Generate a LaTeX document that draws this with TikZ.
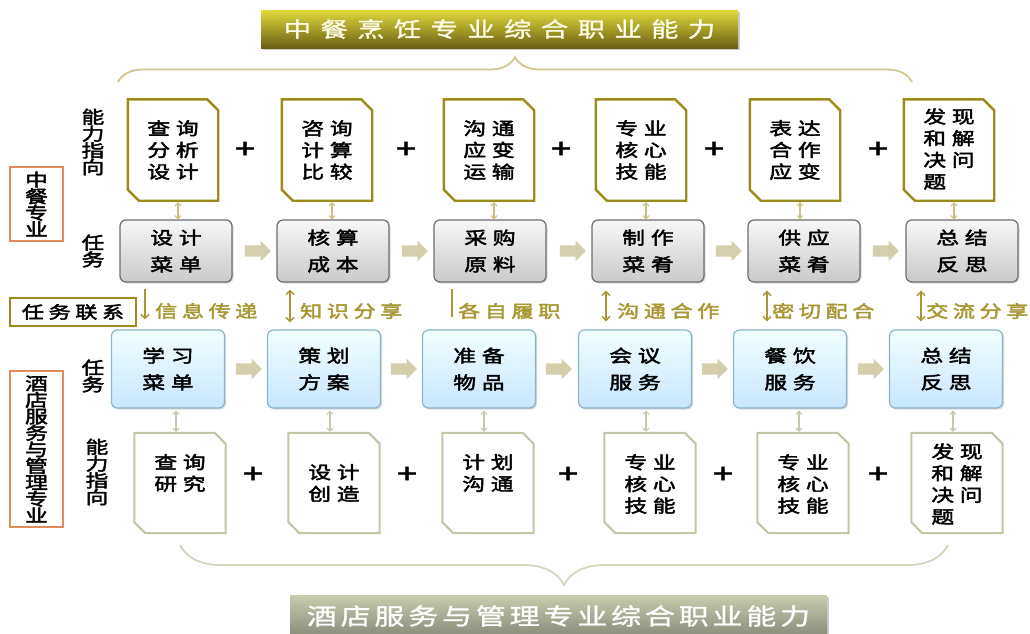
\documentclass[tikz,border=0pt]{standalone}
\usepackage{fontspec}
\setmainfont{Noto Sans CJK SC}
\newfontfamily\fA[FakeBold=2.5,FakeStretch=1.3,LetterSpace=33]{Noto Sans CJK SC}
\newfontfamily\fC[FakeBold=2.5,FakeStretch=1.3,LetterSpace=27]{Noto Sans CJK SC}
\newfontfamily\fV[FakeBold=2.5,FakeStretch=1.3]{Noto Sans CJK SC}
\newfontfamily\fTop[FakeBold=1.2,FakeStretch=1.3,LetterSpace=45]{Noto Sans CJK SC}
\newfontfamily\fBot[FakeBold=1.2,FakeStretch=1.3,LetterSpace=17]{Noto Sans CJK SC}
\newfontfamily\fPlus[FakeBold=1.5,FakeStretch=1.4]{Noto Sans CJK SC}
\usetikzlibrary{shapes.arrows,decorations.pathreplacing,shadows,calc,arrows.meta}
\definecolor{olivebd}{HTML}{9C8C1C}
\definecolor{olivetxt}{HTML}{A89732}
\definecolor{tanarr}{HTML}{D4CEAD}
\definecolor{tanline}{HTML}{CDBF82}
\definecolor{ggreen}{HTML}{C2C6A5}
\definecolor{graybd}{HTML}{6D6D6D}
\definecolor{bluebd}{HTML}{8AB5C8}
\definecolor{orangebd}{HTML}{E08A60}
\definecolor{braceA}{HTML}{D2C78E}
\definecolor{braceB}{HTML}{D3D6BF}
\definecolor{smallB}{HTML}{C9C6AC}
\tikzset{
  docA/.style={rectangle, fill=white, minimum width=90pt, minimum height=101pt, inner sep=0pt},
  docB/.style={docA, minimum width=91pt, minimum height=100pt},
  docline/.style={draw=olivebd, line width=2.4pt},
  doclineB/.style={draw=ggreen, line width=2pt},
  dtxt/.style={font=\fA\fontsize{17.5}{21.7}\selectfont, align=center, inner sep=0pt},
  taskG/.style={rounded corners=6pt, draw=graybd, line width=1.2pt, top color=gray!6,
    bottom color=gray!42, minimum width=112pt, minimum height=62pt, align=center,
    font=\fA\fontsize{17.5}{26.7}\selectfont, inner sep=0pt,
    drop shadow={shadow xshift=1.5pt,shadow yshift=-1.5pt,opacity=0.3}},
  taskB/.style={taskG, draw=bluebd, top color=blue!2!cyan!5, bottom color=cyan!55!blue!22,
    minimum width=113pt, minimum height=78pt},
  blockarr/.style={single arrow, fill=tanarr, draw=none, minimum width=20pt,
    minimum height=26pt, single arrow head extend=4.5pt, inner xsep=0pt, inner ysep=5.5pt},
  plus/.style={font=\fPlus\fontsize{26}{26}\selectfont, inner sep=0pt},
  small/.style={draw=tanline, line width=1.1pt, {Straight Barb[length=3pt,width=6pt]}-{Straight Barb[length=3pt,width=6pt]}},
  smallb/.style={small, draw=smallB},
  conn/.style={draw=olivetxt, line width=1.4pt},
  barbs/.style={{Straight Barb[length=4pt,width=8pt]}-{Straight Barb[length=4pt,width=8pt]}},
  ctxt/.style={font=\fC\fontsize{17}{20}\selectfont, text=olivetxt, anchor=west, inner sep=0pt},
  vlab/.style={font=\fV\fontsize{17.5}{16.8}\selectfont, align=center, inner sep=0pt},
  sidebox/.style={draw=orangebd, line width=2.4pt, fill=white, minimum width=53pt,
    font=\fV\fontsize{17.5}{16.5}\selectfont, align=center, inner sep=0pt},
}
\newcommand\docpath[2]{%
  \draw[#2] (#1.north west) -- ([xshift=-11pt]#1.north east) -- ([yshift=-11pt]#1.north east)
    -- (#1.south east) -- ([xshift=11pt]#1.south west) -- ([yshift=11pt]#1.south west) -- cycle;}
\begin{document}
\begin{tikzpicture}[x=1pt,y=1pt]
\useasboundingbox (0,0) rectangle (1030,-633);
\fill[white] (0,0) rectangle (1030,-633);
% titles
\node[minimum width=477pt, minimum height=38pt, inner sep=0pt,
  top color=olivebd!40!yellow!80!white, middle color=olivebd!92!black, bottom color=olivebd!68!black,
  drop shadow={shadow xshift=2pt,shadow yshift=-2pt,opacity=0.4},
  font=\fTop\fontsize{21}{24}\selectfont, text=white!92!yellow] (tt) at (499.5,-29) {中餐烹饪专业综合职业能力};
\node[minimum width=537pt, minimum height=42pt, inner sep=0pt,
  top color=ggreen!90!white, middle color=ggreen!60!black!85, bottom color=ggreen!55!black!80,
  drop shadow={shadow xshift=2pt,shadow yshift=-2pt,opacity=0.4},
  font=\fBot\fontsize{23}{26}\selectfont, text=white] (bt) at (558.5,-616) {酒店服务与管理专业综合职业能力};
% braces
\draw[braceA, line width=1.8pt, decorate, decoration={brace,amplitude=25pt}] (118,-82) -- (912,-82);
\draw[braceB, line width=1.8pt, decorate, decoration={brace,amplitude=40pt}] (948,-545) -- (180,-545);
% side labels
\node[sidebox, minimum height=74pt] (s1) at (36.5,-204) {中\\餐\\专\\业};
\node[sidebox, minimum height=156pt] (s2) at (36.5,-449) {酒\\店\\服\\务\\与\\管\\理\\专\\业};
\node[draw=olivebd, line width=2.4pt, fill=white, minimum width=126pt, minimum height=28pt,
  font=\fC\fontsize{17}{20}\selectfont, inner sep=0pt] (s3) at (73,-312) {任务联系};
% row labels
\node[vlab] (r1) at (93,-142) {能\\力\\指\\向};
\node[vlab] (r2) at (93,-251) {任\\务};
\node[vlab] (r3) at (93,-376) {任\\务};
\node[vlab] (r4) at (97,-472) {能\\力\\指\\向};
% top ability docs
\node[docA] (a1) at (173,-150) {};
\node[docA] (a2) at (327,-150) {};
\node[docA] (a3) at (489,-150) {};
\node[docA] (a4) at (641,-150) {};
\node[docA] (a5) at (795,-150) {};
\node[docA] (a6) at (949,-150) {};
\foreach \i in {1,...,6} {\docpath{a\i}{docline}}
\node[dtxt] (at1) at (a1) {查询\\分析\\设计};
\node[dtxt] (at2) at (a2) {咨询\\计算\\比较};
\node[dtxt] (at3) at (a3) {沟通\\应变\\运输};
\node[dtxt] (at4) at (a4) {专业\\核心\\技能};
\node[dtxt] (at5) at (a5) {表达\\合作\\应变};
\node[dtxt, align=left] (at6) at ([yshift=1pt]a6.center) {发现\\和解\\决问\\题};
% plus top
\foreach \x/\n in {245/p1,406/p2,561/p3,714/p4,878/p5}
  \node[plus] (\n) at (\x,-150) {+};
% top tasks
\node[taskG] (t1) at (176,-251) {设计\\菜单};
\node[taskG] (t2) at (333,-251) {核算\\成本};
\node[taskG] (t3) at (490,-251) {采购\\原料};
\node[taskG] (t4) at (648,-251) {制作\\菜肴};
\node[taskG] (t5) at (804,-251) {供应\\菜肴};
\node[taskG] (t6) at (962,-251) {总结\\反思};
\foreach \x/\n in {255/ga1,412/ga2,570/ga3,726/ga4,883/ga5}
  \node[blockarr] (\n) at (\x,-251) {};
% bottom tasks
\node[taskB] (b1) at (168,-369) {学习\\菜单};
\node[taskB] (b2) at (324,-369) {策划\\方案};
\node[taskB] (b3) at (479,-369) {准备\\物品};
\node[taskB] (b4) at (635,-369) {会议\\服务};
\node[taskB] (b5) at (790,-369) {餐饮\\服务};
\node[taskB] (b6) at (946,-369) {总结\\反思};
\foreach \x/\n in {246/ba1,401/ba2,556/ba3,712/ba4,868/ba5}
  \node[blockarr] (\n) at (\x,-369) {};
% bottom ability docs
\node[docB] (d1) at (180,-483) {};
\node[docB] (d2) at (334,-483) {};
\node[docB] (d3) at (488,-483) {};
\node[docB] (d4) at (650,-483) {};
\node[docB] (d5) at (803,-483) {};
\node[docB] (d6) at (957,-483) {};
\foreach \i in {1,...,6} {\docpath{d\i}{doclineB}}
\node[dtxt] (dt1) at ([yshift=10pt]d1.center) {查询\\研究};
\node[dtxt] (dt2) at (d2) {设计\\创造};
\node[dtxt] (dt3) at ([yshift=10pt]d3.center) {计划\\沟通};
\node[dtxt] (dt4) at ([yshift=-1pt]d4.center) {专业\\核心\\技能};
\node[dtxt] (dt5) at ([yshift=-1pt]d5.center) {专业\\核心\\技能};
\node[dtxt, align=left] (dt6) at ([yshift=-1pt]d6.center) {发现\\和解\\决问\\题};
\foreach \x/\n in {253/q1,407/q2,568/q3,723/q4,878/q5}
  \node[plus] (\n) at (\x,-475) {+};
% small double arrows top
\foreach \i in {1,...,6}
  \draw[small] ($(a\i.south)+(5,-1.5)$) -- ($(a\i.south |- t\i.north)+(5,0)$);
% small double arrows bottom
\foreach \i in {1,...,6}
  \draw[smallb] ($(d\i.north |- b\i.south)+(-4,-2)$) -- ($(d\i.north)+(-4,1)$);
% connections
\draw[conn,-{Straight Barb[length=4pt,width=8pt]}] ($(t1.south)+(-31,-6)$) -- ($(t1.south |- b1.north)+(-31,10)$);
\draw[conn,barbs] ($(t2.south)+(-43,-7)$) -- ($(t2.south |- b2.north)+(-43,7)$);
\draw[conn] ($(t3.south)+(-38,-6)$) -- ($(t3.south |- b3.north)+(-38,12)$);
\draw[conn,barbs] ($(t4.south)+(-42,-8)$) -- ($(t4.south |- b4.north)+(-42,8)$);
\draw[conn,barbs] ($(t5.south)+(-37,-8)$) -- ($(t5.south |- b5.north)+(-37,8)$);
\draw[conn,barbs] ($(t6.south)+(-41,-8)$) -- ($(t6.south |- b6.north)+(-41,8)$);
\node[ctxt] (l1) at (155,-311) {信息传递};
\node[ctxt] (l2) at (300,-311) {知识分享};
\node[ctxt] (l3) at (458,-311) {各自履职};
\node[ctxt] (l4) at (617,-311) {沟通合作};
\node[ctxt] (l5) at (772,-311) {密切配合};
\node[ctxt] (l6) at (926,-311) {交流分享};
\end{tikzpicture}
\end{document}
